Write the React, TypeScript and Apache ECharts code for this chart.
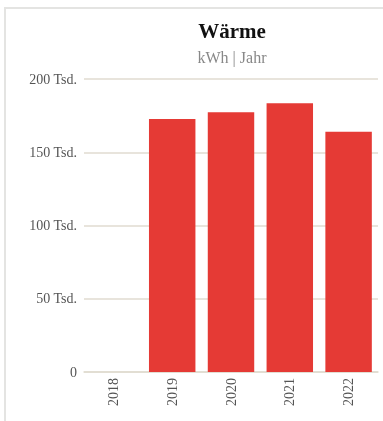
import React, { useEffect, useRef } from "react";
import * as echarts from "echarts";

const categories = ["2018", "2019", "2020", "2021", "2022"];
const values: (number | null)[] = [null, 172700, 177300, 183400, 164000];
const yTicks = [0, 50000, 100000, 150000, 200000];
const titleText = "Wärme";
const subtitleText = "kWh | Jahr";

export default function App() {
  const ref = useRef<HTMLDivElement>(null);
  useEffect(() => {
    if (!ref.current) return;
    const chart = echarts.init(ref.current, null, { renderer: "svg" });
    const font = "'Liberation Serif', 'Times New Roman', serif";
    chart.setOption({
      animation: false,
      graphic: [
        {
          type: "text",
          x: 232,
          y: 31,
          style: {
            text: titleText,
            fontFamily: font,
            fontWeight: "bold",
            fontSize: 21,
            fill: "#111",
            textAlign: "center",
            textVerticalAlign: "middle",
          },
        },
        {
          type: "text",
          x: 232,
          y: 57,
          style: {
            text: subtitleText,
            fontFamily: font,
            fontSize: 16,
            fill: "#888",
            textAlign: "center",
            textVerticalAlign: "middle",
          },
        },
      ],
      grid: { left: 84, right: 5, top: 79, bottom: 49, containLabel: false },
      xAxis: {
        type: "category",
        data: categories,
        axisTick: { show: false },
        axisLine: { lineStyle: { color: "#e0dbd0", width: 1.5 } },
        axisLabel: {
          rotate: 90,
          margin: 6,
          color: "#555",
          fontFamily: font,
          fontSize: 14,
        },
      },
      yAxis: {
        type: "value",
        min: yTicks[0],
        max: yTicks[yTicks.length - 1],
        interval: yTicks[1] - yTicks[0],
        axisLine: { show: false },
        axisTick: { show: false },
        splitLine: { lineStyle: { color: "#e0dbd0", width: 1.5 } },
        axisLabel: {
          margin: 7,
          color: "#555",
          fontFamily: font,
          fontSize: 14,
          formatter: (v: number) => (v === 0 ? "0" : `${v / 1000} Tsd.`),
        },
      },
      series: [
        {
          type: "bar",
          data: values,
          barCategoryGap: "21%",
          itemStyle: { color: "#e53a35" },
        },
      ],
    });
    return () => chart.dispose();
  }, []);
  return (
    <div>
      <div
        style={{
          position: "fixed",
          left: 4,
          top: 7,
          width: 379,
          height: 414,
          borderTop: "2px solid #e4e4e2",
          borderLeft: "2px solid #e4e4e2",
          boxSizing: "border-box",
        }}
      />
      <div
        ref={ref}
        style={{ position: "fixed", left: 0, top: 0, width: 383, height: 421 }}
      />
    </div>
  );
}
